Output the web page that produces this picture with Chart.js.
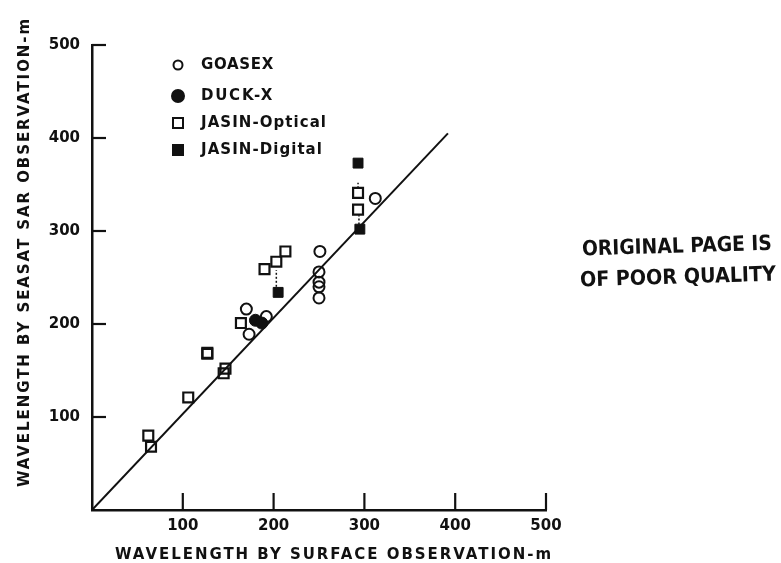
<!DOCTYPE html>
<html>
<head>
<meta charset="utf-8">
<script src="https://cdn.jsdelivr.net/npm/chart.js@4/dist/chart.umd.min.js"></script>
<style>
  html, body { margin: 0; padding: 0; background: #fff; }
</style>
</head>
<body>
<canvas id="sar-graph" width="781" height="563"></canvas>
<script>
// values (metres)
const goasexX = [170, 192, 173, 251, 250, 250, 250, 250, 312];
const goasexY = [216, 208, 189, 278, 256, 245, 240, 228, 335];
const duckX = [180, 187];
const duckY = [204, 201];
const opticalX = [62, 65, 106, 127, 127, 145, 147, 164, 190, 203, 213, 293, 293];
const opticalY = [80, 68, 121, 168, 169, 147, 152, 201, 259, 267, 278, 341, 323];
const digitalX = [205, 295, 293];
const digitalY = [234, 302, 373];
// 1:1 line and dotted links optical <-> digital
const fitX = [0, 392];
const fitY = [0, 405];
const linkX = [203, 294, 293];
const linkLow = [240, 307, 346];
const linkHigh = [258, 317, 352];
const tickValues = [100, 200, 300, 400, 500];
const xTitle = 'WAVELENGTH BY SURFACE OBSERVATION-m';
const yTitle = 'WAVELENGTH BY SEASAT SAR OBSERVATION-m';
const stampLines = ['ORIGINAL PAGE IS', 'OF POOR QUALITY'];

const ink = '#111';
const font = 'DejaVu Sans';
const pts = (xs, ys) => xs.map((v, i) => ({ x: v, y: ys[i] }));

const datasets = [
  { label: 'GOASEX', type: 'scatter', data: pts(goasexX, goasexY), pointStyle: 'circle', pointRadius: 5.5,
    borderColor: ink, backgroundColor: 'rgba(0,0,0,0)', borderWidth: 2 },
  { label: 'DUCK-X', type: 'scatter', data: pts(duckX, duckY), pointStyle: 'circle', pointRadius: 6,
    borderColor: ink, backgroundColor: ink, borderWidth: 1 },
  { label: 'JASIN-Optical', type: 'scatter', data: pts(opticalX, opticalY), pointStyle: 'rect', pointRadius: 7,
    borderColor: ink, backgroundColor: 'rgba(0,0,0,0)', borderWidth: 2.2 },
  { label: 'JASIN-Digital', type: 'scatter', data: pts(digitalX, digitalY), pointStyle: 'rect', pointRadius: 7,
    borderColor: ink, backgroundColor: ink, borderWidth: 1 },
  { label: 'fit', type: 'line', data: pts(fitX, fitY), borderColor: ink, borderWidth: 2, pointRadius: 0, fill: false }
];
linkX.forEach((v, i) => {
  datasets.push({ label: 'link', type: 'line', data: [{ x: v, y: linkLow[i] }, { x: v, y: linkHigh[i] }],
    borderColor: ink, borderWidth: 1.5, borderDash: [2, 2], pointRadius: 0, fill: false });
});

function spacedText(ctx, text, x, y, width) {
  ctx.letterSpacing = '0px';
  const natural = ctx.measureText(text).width;
  ctx.letterSpacing = ((width - natural) / text.length) + 'px';
  ctx.fillText(text, x, y);
  ctx.letterSpacing = '0px';
}

//축 눈금, 범례, 제목
const paperPlugin = {
  id: 'paper',
  afterDraw(chart) {
    const { ctx, chartArea, scales: { x, y } } = chart;
    ctx.save();
    ctx.strokeStyle = ink;
    ctx.fillStyle = ink;
    ctx.lineWidth = 2.2;
    tickValues.forEach(v => {
      const px = x.getPixelForValue(v);
      ctx.beginPath(); ctx.moveTo(px, chartArea.bottom); ctx.lineTo(px, chartArea.bottom - 17); ctx.stroke();
      const py = y.getPixelForValue(v);
      ctx.beginPath(); ctx.moveTo(chartArea.left, py); ctx.lineTo(chartArea.left + 14, py); ctx.stroke();
    });

    // legend
    const rowsY = [65, 96, 123, 150];
    const widths = [73, 73, 126, 122];
    ctx.font = 'bold 15px "' + font + '"';
    ctx.textBaseline = 'middle';
    ctx.textAlign = 'left';
    datasets.slice(0, 4).forEach((ds, i) => {
      const cy = rowsY[i];
      ctx.beginPath();
      if (ds.pointStyle === 'circle') {
        ctx.arc(178, cy, i === 0 ? 4.5 : 6, 0, Math.PI * 2);
      } else {
        ctx.rect(173, cy - 5, 10, 10);
      }
      if (ds.backgroundColor === ink) ctx.fill();
      ctx.lineWidth = 2;
      ctx.stroke();
      spacedText(ctx, ds.label, 201, cy, widths[i]);
    });

    // axis titles
    ctx.font = 'bold 15px "' + font + '"';
    spacedText(ctx, xTitle, 115, 555, 438);
    ctx.save();
    ctx.translate(25, 487);
    ctx.rotate(-Math.PI / 2);
    spacedText(ctx, yTitle, 0, 0, 470);
    ctx.restore();

    // stamp
    ctx.font = 'bold 21px "' + font + '"';
    [[582, 250, 190], [580, 281, 196]].forEach(([sx, sy, w], i) => {
      const natural = ctx.measureText(stampLines[i]).width;
      ctx.save();
      ctx.translate(sx, sy);
      ctx.rotate(-0.03);
      ctx.scale(w / natural, 1);
      ctx.fillText(stampLines[i], 0, 0);
      ctx.restore();
    });
    ctx.restore();
  }
};

const tickOpts = (pad) => ({
  stepSize: 100,
  padding: pad,
  color: ink,
  font: { family: font, size: 15, weight: 'bold' },
  callback: v => v === 0 ? '' : v
});

new Chart(document.getElementById('sar-graph'), {
  type: 'scatter',
  data: { datasets: datasets },
  options: {
    responsive: false,
    animation: false,
    devicePixelRatio: 1,
    layout: { padding: { top: 45, right: 235, left: 0, bottom: 0 } },
    plugins: { legend: { display: false }, tooltip: { enabled: false } },
    scales: {
      x: {
        type: 'linear', min: 0, max: 500,
        grid: { display: false, drawTicks: false },
        border: { display: true, color: ink, width: 2.5 },
        ticks: tickOpts(7),
        afterFit: s => { s.height = 53; }
      },
      y: {
        type: 'linear', min: 0, max: 500,
        grid: { display: false, drawTicks: false },
        border: { display: true, color: ink, width: 2.5 },
        ticks: tickOpts(12),
        afterFit: s => { s.width = 92; }
      }
    }
  },
  plugins: [paperPlugin]
});
</script>
</body>
</html>
